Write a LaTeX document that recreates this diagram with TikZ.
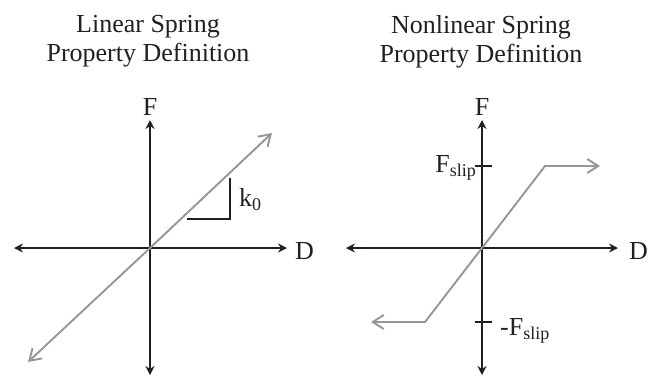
\documentclass[tikz,border=0pt]{standalone}
\usepackage{fontspec}
\setmainfont{Liberation Serif}
\usepackage{xcolor}
\usetikzlibrary{arrows.meta}
\definecolor{inkblack}{RGB}{35,31,32}
\definecolor{curvegray}{RGB}{150,150,150}
\newcommand{\lowsub}[1]{\raisebox{-4pt}{\fontsize{18}{18}\selectfont #1}}

\begin{document}
\begin{tikzpicture}[x=1pt,y=-1pt,
axisline/.style={line width=1.9pt,draw=inkblack,{Stealth[length=9pt,width=9pt]}-{Stealth[length=9pt,width=9pt]}},
springline/.style={line width=1.9pt,draw=curvegray,line join=miter,{Straight Barb[length=11pt,width=14pt]}-{Straight Barb[length=11pt,width=14pt]}},
tickline/.style={line width=1.9pt,draw=inkblack},
lab/.style={inner sep=0pt,text=inkblack,font=\fontsize{26}{29}\selectfont}]
\useasboundingbox (0,0) rectangle (656,376);
\node[lab,align=center,anchor=north](lintitle)at(148,15){Linear Spring\\Property Definition};
\node[lab,align=center,anchor=north](nltitle)at(481,15){Nonlinear Spring\\Property Definition};
\coordinate(o1)at(150,248);
\coordinate(w1)at(14,248);
\coordinate(e1)at(287,248);
\coordinate(n1)at(150,120);
\coordinate(s1)at(150,375);
\draw[axisline](w1)--(e1);
\draw[axisline](s1)--(n1);
\node[lab,anchor=base](f1)at(150,115){F};
\node[lab,anchor=base west](d1)at(295,259){D};
\coordinate(ka)at(28,362);
\coordinate(kb)at(272,133);
\draw[springline](ka)--(o1)--(kb);
\draw[tickline](187,219)--(230,219)--(230,178);
\node[lab,anchor=base west](k0)at(239,206){k\lowsub{0}};
\coordinate(o2)at(482,248);
\coordinate(w2)at(346,248);
\coordinate(e2)at(618,248);
\coordinate(n2)at(482,120);
\coordinate(s2)at(482,375);
\draw[axisline](w2)--(e2);
\draw[axisline](s2)--(n2);
\node[lab,anchor=base](f2)at(482,115){F};
\node[lab,anchor=base west](d2)at(629,259){D};
\draw[tickline](475,166)--(492,166);
\draw[tickline](475,322)--(492,322);
\node[lab,anchor=base east](fs)at(476,172){F\lowsub{slip}};
\node[lab,anchor=base west](mfs)at(500,335){-F\lowsub{slip}};
\coordinate(sa)at(371,322);
\coordinate(sb)at(425,322);
\coordinate(sc)at(545,166);
\coordinate(sd)at(600,166);
\draw[springline](sa)--(sb)--(o2)--(sc)--(sd);
\end{tikzpicture}
\end{document}
